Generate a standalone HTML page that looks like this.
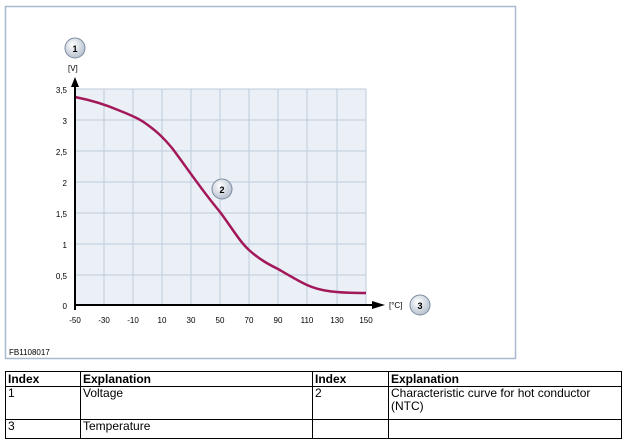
<!DOCTYPE html>
<html><head><style>
body{margin:0;width:626px;height:445px;background:#fff;overflow:hidden;font-family:"Liberation Sans",sans-serif}
table{position:absolute;left:5px;top:371px;border-collapse:collapse;font-size:12px;width:617px;table-layout:fixed}
td{border:1.5px solid #000;padding:0 2px;vertical-align:top;line-height:13px}
th{border:1.5px solid #000;padding:0 2px;text-align:left;font-size:12px;height:14px}
</style></head><body>
<svg width="626" height="370" style="position:absolute;left:0;top:0" font-family="Liberation Sans,sans-serif">
<defs><radialGradient id="g" cx="40%" cy="35%" r="65%"><stop offset="0" stop-color="#fff"/><stop offset="1" stop-color="#b8c2d0"/></radialGradient></defs>
<rect x="5.5" y="6.5" width="510" height="352" fill="#fff" stroke="#a9b9cf" stroke-width="1.5"/>
<rect x="75" y="89" width="291" height="216" fill="#eaf0f6"/>
<g stroke="#bfcbdb" stroke-width="1">
<line x1="104" y1="89" x2="104" y2="305"/><line x1="133" y1="89" x2="133" y2="305"/><line x1="162" y1="89" x2="162" y2="305"/><line x1="191" y1="89" x2="191" y2="305"/><line x1="220" y1="89" x2="220" y2="305"/><line x1="249" y1="89" x2="249" y2="305"/><line x1="278" y1="89" x2="278" y2="305"/><line x1="307" y1="89" x2="307" y2="305"/><line x1="337" y1="89" x2="337" y2="305"/><line x1="366" y1="89" x2="366" y2="305"/>
<line x1="75" y1="89" x2="366" y2="89"/><line x1="75" y1="120" x2="366" y2="120"/><line x1="75" y1="151" x2="366" y2="151"/><line x1="75" y1="182" x2="366" y2="182"/><line x1="75" y1="213" x2="366" y2="213"/><line x1="75" y1="244" x2="366" y2="244"/><line x1="75" y1="275" x2="366" y2="275"/>
</g>
<path d="M75,97 C90,100 104,104 118,110 C128,114 138,118 145,123 C155,130 162,136 172,148 C185,165 200,188 220,212 C232,228 240,242 249,250 C260,260 270,265 278,269 C290,276 300,282 307,285 C320,291 335,293 366,293" fill="none" stroke="#a3185a" stroke-width="2.5"/>
<line x1="75" y1="305" x2="375" y2="305" stroke="#000" stroke-width="2"/>
<polygon points="385,305 372,301 372,309" fill="#000"/>
<line x1="75" y1="84" x2="75" y2="310" stroke="#000" stroke-width="2"/>
<polygon points="75,77 71,87 79,87" fill="#000"/>
<g font-size="8" fill="#000" text-anchor="end">
<text x="67" y="93">3,5</text><text x="67" y="124">3</text><text x="67" y="155">2,5</text><text x="67" y="186">2</text><text x="67" y="217">1,5</text><text x="67" y="248">1</text><text x="67" y="279">0,5</text><text x="67" y="309">0</text>
</g>
<g font-size="8" fill="#000" text-anchor="middle">
<text x="75" y="323">-50</text><text x="104" y="323">-30</text><text x="133" y="323">-10</text><text x="162" y="323">10</text><text x="191" y="323">30</text><text x="220" y="323">50</text><text x="249" y="323">70</text><text x="278" y="323">90</text><text x="307" y="323">110</text><text x="337" y="323">130</text><text x="366" y="323">150</text>
</g>
<text x="68" y="71" font-size="8">[V]</text>
<text x="389" y="308" font-size="8">[°C]</text>
<text x="9" y="355" font-size="8">FB1108017</text>
<g font-size="9" font-weight="bold" text-anchor="middle">
<circle cx="75" cy="48" r="10" fill="url(#g)" stroke="#7d8ba0"/><text x="75" y="52">1</text>
<circle cx="222" cy="189" r="10" fill="url(#g)" stroke="#7d8ba0"/><text x="222" y="193">2</text>
<circle cx="420" cy="305" r="10" fill="url(#g)" stroke="#7d8ba0"/><text x="420" y="309">3</text>
</g>
</svg>
<table>
<colgroup><col style="width:75px"><col style="width:232px"><col style="width:76px"><col></colgroup>
<tr><th>Index</th><th>Explanation</th><th>Index</th><th>Explanation</th></tr>
<tr style="height:33px"><td>1</td><td>Voltage</td><td>2</td><td>Characteristic curve for hot conductor<br>(NTC)</td></tr>
<tr style="height:19px"><td>3</td><td>Temperature</td><td></td><td></td></tr>
</table>
</body></html>
